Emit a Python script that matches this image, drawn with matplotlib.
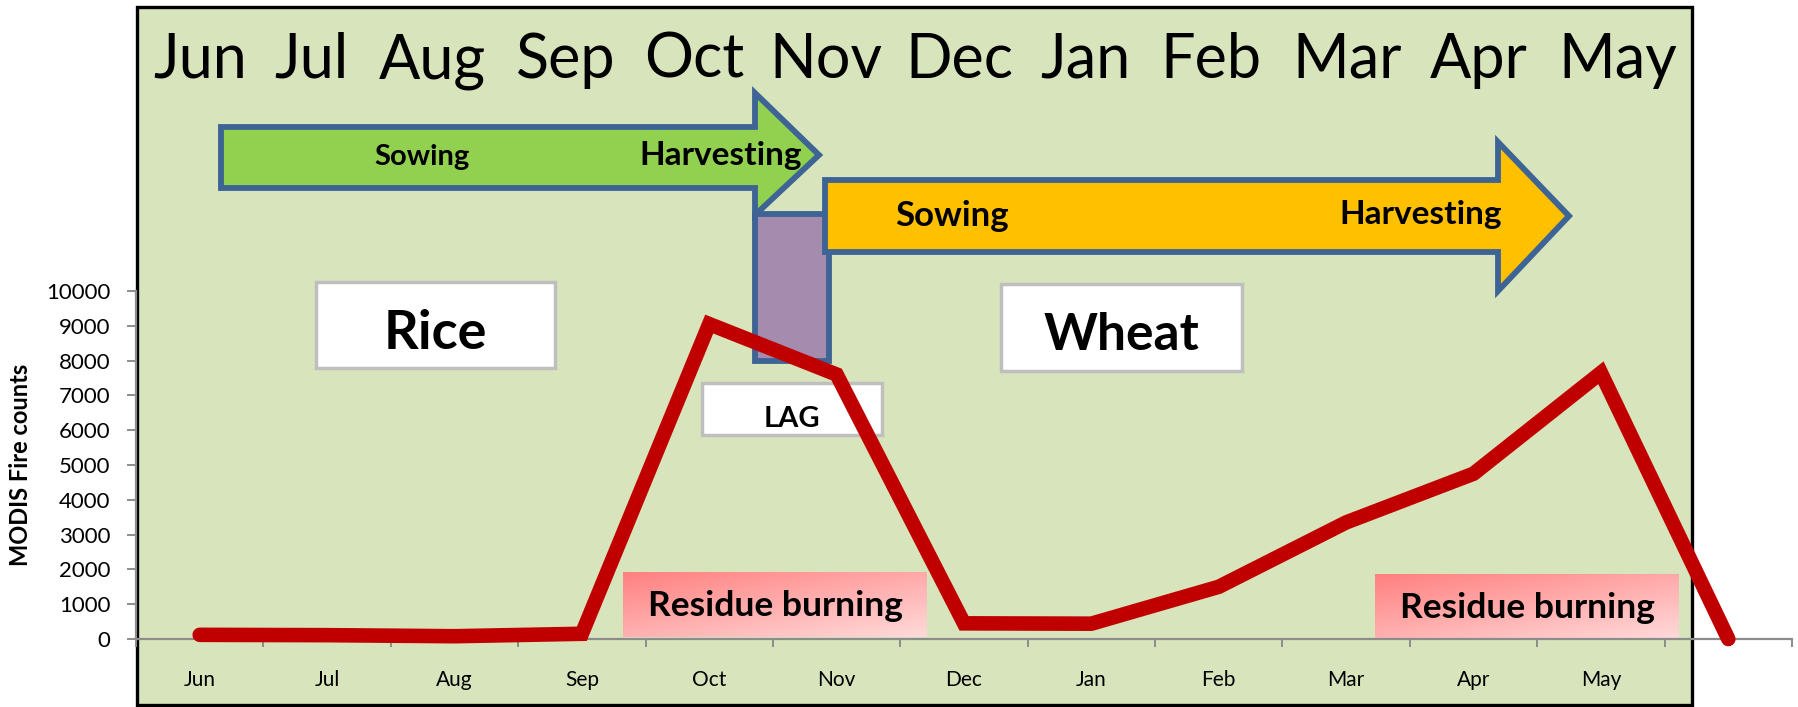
import numpy as np
import matplotlib
matplotlib.use("Agg")
import matplotlib.pyplot as plt
from matplotlib.patches import Polygon, Rectangle

# ---------------- data ----------------
categories = ["Jun", "Jul", "Aug", "Sep", "Oct", "Nov", "Dec",
              "Jan", "Feb", "Mar", "Apr", "May", ""]
fire_counts = [120, 110, 80, 150, 9050, 7600, 450, 440, 1500, 3350, 4750, 7650, 0]
yticks = list(range(0, 10001, 1000))
top_months = ["Jun", "Jul", "Aug", "Sep", "Oct", "Nov", "Dec",
              "Jan", "Feb", "Mar", "Apr", "May"]
ylabel = "MODIS Fire counts"

W, H = 1798, 707
plt.rcParams['font.family'] = ['Lato', 'DejaVu Sans']
fig = plt.figure(figsize=(W / 100, H / 100), dpi=100)
fig.patch.set_facecolor("white")

# ---------------- background panel (pixel coordinates) ----------------
bg = fig.add_axes([0, 0, 1, 1], zorder=0)
bg.set_xlim(0, W)
bg.set_ylim(H, 0)
bg.axis("off")

bg.add_patch(Rectangle((137, 7), 1692 - 137, 705 - 7, facecolor="#D8E4BC",
                       edgecolor="black", linewidth=2.4))

top_x = [200, 311, 432, 566, 694, 826, 959, 1085, 1211, 1347, 1479, 1618]
for x, m in zip(top_x, top_months):
    bg.text(x, 78, m, fontsize=44, ha="center", va="baseline", color="black")

edge = "#3D6494"
# LAG rectangle
bg.add_patch(Rectangle((755, 214), 829 - 755, 361 - 214, facecolor="#A58BAD",
                       edgecolor=edge, linewidth=4.2))
# rice arrow
rice = [(221, 127), (755, 127), (755, 93), (819, 155), (755, 215), (755, 188), (221, 188)]
bg.add_patch(Polygon(rice, closed=True, facecolor="#92D050", edgecolor=edge,
                     linewidth=4.2, joinstyle="miter"))
# wheat arrow
wheat = [(825, 180), (1498, 180), (1498, 142), (1569, 216), (1498, 291), (1498, 252), (825, 252)]
bg.add_patch(Polygon(wheat, closed=True, facecolor="#FFC000", edgecolor=edge,
                     linewidth=4.2, joinstyle="miter"))

bg.text(422, 165, "Sowing", fontsize=21, fontweight="bold", ha="center", va="baseline")
bg.text(721, 165, "Harvesting", fontsize=24, fontweight="bold", ha="center", va="baseline")
bg.text(952, 226, "Sowing", fontsize=25, fontweight="bold", ha="center", va="baseline")
bg.text(1421, 224, "Harvesting", fontsize=24, fontweight="bold", ha="center", va="baseline")

# white label boxes
for (x0, y0, x1, y1, txt, fs, base) in [
        (316, 282, 555, 368, "Rice", 39, 349),
        (1001, 284, 1242, 371, "Wheat", 37, 350),
        (702, 383, 882, 435, "LAG", 21, 427)]:
    bg.add_patch(Rectangle((x0, y0), x1 - x0, y1 - y0, facecolor="white",
                           edgecolor="#BFBFBF", linewidth=2.5))
    bg.text((x0 + x1) / 2, base, txt, fontsize=fs, fontweight="bold",
            ha="center", va="baseline")

# residue burning gradient boxes
c1 = np.array([255, 128, 128]) / 255
c2 = np.array([255, 218, 218]) / 255
gy, gx = np.mgrid[0:1:60j, 0:1:200j]
t = np.clip((gx * 0.75 + gy * 0.9) / 1.65, 0, 1)[..., None]
grad = c1 * (1 - t) + c2 * t
for (x0, y0, x1, y1, base) in [(623, 572, 927, 637, 616), (1375, 574, 1679, 639, 618)]:
    bg.imshow(grad, extent=(x0, x1, y1, y0), aspect="auto", zorder=2, interpolation="bilinear")
    bg.text((x0 + x1) / 2, base, "Residue burning", fontsize=25.5, fontweight="bold",
            ha="center", va="baseline", zorder=3)
bg.set_xlim(0, W)
bg.set_ylim(H, 0)

# ---------------- data axes ----------------
left, right = 136 / W, 1792 / W
bottom, top = (H - 639) / H, (H - 291) / H
ax = fig.add_axes([left, bottom, right - left, top - bottom], zorder=1)
ax.patch.set_alpha(0)

x = np.arange(len(categories)) + 0.5
ax.plot(x, fire_counts, color="#C00000", linewidth=10.5, solid_joinstyle="miter",
        solid_capstyle="round", zorder=5, clip_on=False)

ax.set_xlim(0, len(categories))
ax.set_ylim(0, 10000)
ax.set_yticks(yticks)
ax.set_yticklabels([str(v) for v in yticks], fontsize=16)
ax.set_xticks(np.arange(len(categories) + 1))
ax.set_xticklabels([])
ax.set_xticks(x, minor=True)
ax.set_xticklabels(categories, minor=True, fontsize=15)

gray = "#8C8C8C"
for s in ["top", "right"]:
    ax.spines[s].set_visible(False)
for s in ["left", "bottom"]:
    ax.spines[s].set_color(gray)
    ax.spines[s].set_linewidth(1.6)
ax.tick_params(axis="y", which="major", direction="out", length=6.5, width=1.4,
               color=gray, pad=12, labelcolor="black")
ax.tick_params(axis="x", which="major", direction="out", length=6, width=1.4,
               color=gray)
ax.tick_params(axis="x", which="minor", length=0, pad=22, labelcolor="black")

fig.text(21 / W, 1 - 465 / H, ylabel, rotation=90, fontsize=17, fontweight="bold",
         ha="center", va="center")

fig.savefig("out.png", dpi=100, facecolor="white")
